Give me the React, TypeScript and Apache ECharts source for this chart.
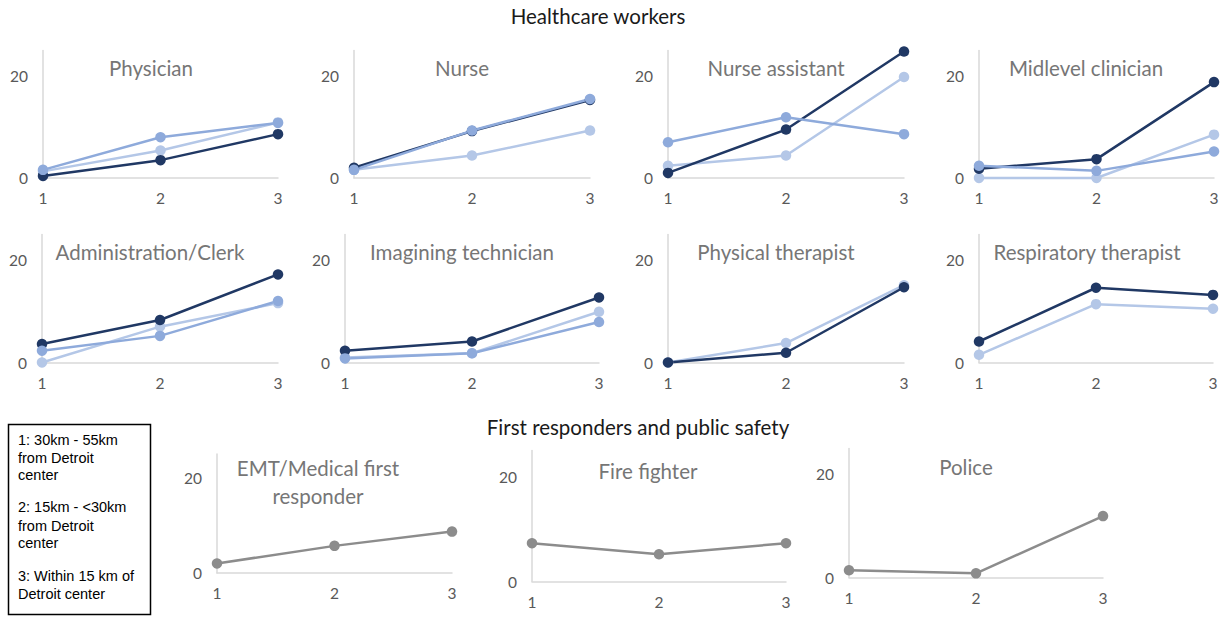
import React, { useEffect, useRef } from "react";
import * as echarts from "echarts";

// ---- Data ----
const categories = ["1", "2", "3"];
const yTickLabels = [0, 20];

const physicianDark = [0.4, 3.5, 8.6];
const physicianMid = [1.6, 8.0, 10.8];
const physicianLight = [1.3, 5.4, 10.9];

const nurseDark = [2.0, 9.2, 15.3];
const nurseMid = [1.6, 9.3, 15.5];
const nurseLight = [1.6, 4.4, 9.3];

const nurseAssistantDark = [1.0, 9.5, 24.8];
const nurseAssistantMid = [7.0, 11.9, 8.6];
const nurseAssistantLight = [2.4, 4.4, 19.8];

const midlevelDark = [1.8, 3.7, 18.8];
const midlevelMid = [2.4, 1.4, 5.2];
const midlevelLight = [0, 0, 8.5];

const adminDark = [3.6, 8.3, 17.2];
const adminMid = [2.3, 5.2, 12.0];
const adminLight = [0, 7.0, 11.6];

const imagingDark = [2.3, 4.1, 12.7];
const imagingMid = [0.8, 1.8, 7.9];
const imagingLight = [1.0, 1.8, 9.9];

const physicalDark = [0, 1.9, 14.7];
const physicalLight = [0, 3.8, 15.1];

const respiratoryDark = [4.1, 14.6, 13.2];
const respiratoryLight = [1.5, 11.4, 10.5];

const emtValues = [2.0, 5.7, 8.7];
const fireValues = [7.3, 5.2, 7.3];
const policeValues = [1.4, 0.8, 11.9];

const panelTitles = [
  ["Physician"],
  ["Nurse"],
  ["Nurse assistant"],
  ["Midlevel clinician"],
  ["Administration/Clerk"],
  ["Imagining technician"],
  ["Physical therapist"],
  ["Respiratory therapist"],
  ["EMT/Medical first", "responder"],
  ["Fire fighter"],
  ["Police"],
];

const sectionTitles = ["Healthcare workers", "First responders and public safety"];

const legendLines = [
  "1: 30km - 55km",
  "from Detroit",
  "center",
  "2: 15km - <30km",
  "from Detroit",
  "center",
  "3: Within 15 km of",
  "Detroit center",
];

// ---- Styles / layout ----
const DARK = "#203864";
const MID = "#8eaadb";
const LIGHT = "#b4c7e7";
const GRAY = "#8c8c8c";

const panelSeries = [
  [[physicianLight, LIGHT], [physicianDark, DARK], [physicianMid, MID]],
  [[nurseLight, LIGHT], [nurseDark, DARK], [nurseMid, MID]],
  [[nurseAssistantLight, LIGHT], [nurseAssistantDark, DARK], [nurseAssistantMid, MID]],
  [[midlevelLight, LIGHT], [midlevelDark, DARK], [midlevelMid, MID]],
  [[adminLight, LIGHT], [adminDark, DARK], [adminMid, MID]],
  [[imagingLight, LIGHT], [imagingDark, DARK], [imagingMid, MID]],
  [[physicalLight, LIGHT], [physicalDark, DARK]],
  [[respiratoryLight, LIGHT], [respiratoryDark, DARK]],
  [[emtValues, GRAY]],
  [[fireValues, GRAY]],
  [[policeValues, GRAY]],
];

const grids = [
  { left: 43, top: 50.5, width: 235, height: 127.5 },
  { left: 354, top: 50.5, width: 236, height: 127.5 },
  { left: 668, top: 50.5, width: 236, height: 127.5 },
  { left: 979, top: 50.5, width: 235, height: 127.5 },
  { left: 42, top: 234.5, width: 236, height: 128 },
  { left: 345, top: 234.5, width: 254, height: 128 },
  { left: 668, top: 234.5, width: 236, height: 128 },
  { left: 979, top: 234.5, width: 234, height: 128 },
  { left: 217, top: 454, width: 235, height: 119 },
  { left: 532, top: 450.5, width: 254, height: 131 },
  { left: 849, top: 448.5, width: 254, height: 129 },
];

const titlePos: [number, number][] = [
  [151, 68],
  [462, 68],
  [776, 68],
  [1086, 68],
  [150, 252],
  [462, 252],
  [776, 252],
  [1087, 252],
  [318, 468],
  [648, 471],
  [966, 467],
];

const legendY = [440, 458, 475, 507, 526, 543, 576, 594];

const FONT = "Lato, 'Open Sans', sans-serif";

function buildOption() {
  const grid: any[] = [];
  const xAxis: any[] = [];
  const yAxis: any[] = [];
  const series: any[] = [];
  const graphic: any[] = [];

  grids.forEach((g, i) => {
    grid.push({ ...g, containLabel: false });
    xAxis.push({
      type: "category",
      gridIndex: i,
      data: categories,
      boundaryGap: false,
      axisLine: { show: true, lineStyle: { color: "#d9d9d9", width: 1.5 } },
      axisTick: { show: false },
      axisLabel: { color: "#595959", fontSize: 15.5, fontFamily: FONT, margin: 12 },
      splitLine: { show: false },
    });
    yAxis.push({
      type: "value",
      gridIndex: i,
      min: 0,
      max: 25,
      interval: 20,
      axisLine: { show: true, lineStyle: { color: "#d9d9d9", width: 1.5 } },
      axisTick: { show: false },
      splitLine: { show: false },
      axisLabel: {
        color: "#595959",
        fontSize: 15.5,
        fontFamily: FONT,
        margin: 15,
        formatter: (v: number) => (yTickLabels.includes(v) ? String(v) : ""),
      },
    });
    panelSeries[i].forEach(([data, color]) => {
      series.push({
        type: "line",
        xAxisIndex: i,
        yAxisIndex: i,
        data,
        clip: false,
        symbol: "circle",
        symbolSize: 10.5,
        lineStyle: { color, width: 2.5 },
        itemStyle: { color },
        emphasis: { disabled: true },
      });
    });
    const lines = panelTitles[i];
    lines.forEach((t, k) => {
      graphic.push({
        type: "text",
        x: titlePos[i][0],
        y: titlePos[i][1] + k * 28,
        style: {
          text: t,
          fill: "#767676",
          font: `20.5px ${FONT}`,
          textAlign: "center",
          textVerticalAlign: "middle",
        },
      });
    });
  });

  graphic.push({
    type: "text",
    x: 598,
    y: 16,
    style: {
      text: sectionTitles[0],
      fill: "#1a1a1a",
      font: `20.5px ${FONT}`,
      textAlign: "center",
      textVerticalAlign: "middle",
    },
  });
  graphic.push({
    type: "text",
    x: 638,
    y: 427,
    style: {
      text: sectionTitles[1],
      fill: "#1a1a1a",
      font: `20.5px ${FONT}`,
      textAlign: "center",
      textVerticalAlign: "middle",
    },
  });

  graphic.push({
    type: "rect",
    shape: { x: 8.5, y: 424.5, width: 142, height: 190 },
    style: { fill: "#fff", stroke: "#000", lineWidth: 1.5 },
  });
  legendLines.forEach((t, k) => {
    graphic.push({
      type: "text",
      x: 18,
      y: legendY[k],
      style: {
        text: t,
        fill: "#000",
        font: "14.5px 'Liberation Sans', Arial, sans-serif",
        textAlign: "left",
        textVerticalAlign: "middle",
      },
    });
  });

  return {
    animation: false,
    backgroundColor: "#ffffff",
    grid,
    xAxis,
    yAxis,
    series,
    graphic,
  };
}

export default function App() {
  const ref = useRef<HTMLDivElement>(null);
  useEffect(() => {
    if (!ref.current) return;
    const chart = echarts.init(ref.current, null, { renderer: "svg" });
    chart.setOption(buildOption() as any);
    return () => chart.dispose();
  }, []);
  return (
    <div
      ref={ref}
      style={{ position: "fixed", left: 0, top: 0, width: 1222, height: 617, background: "#fff" }}
    />
  );
}
